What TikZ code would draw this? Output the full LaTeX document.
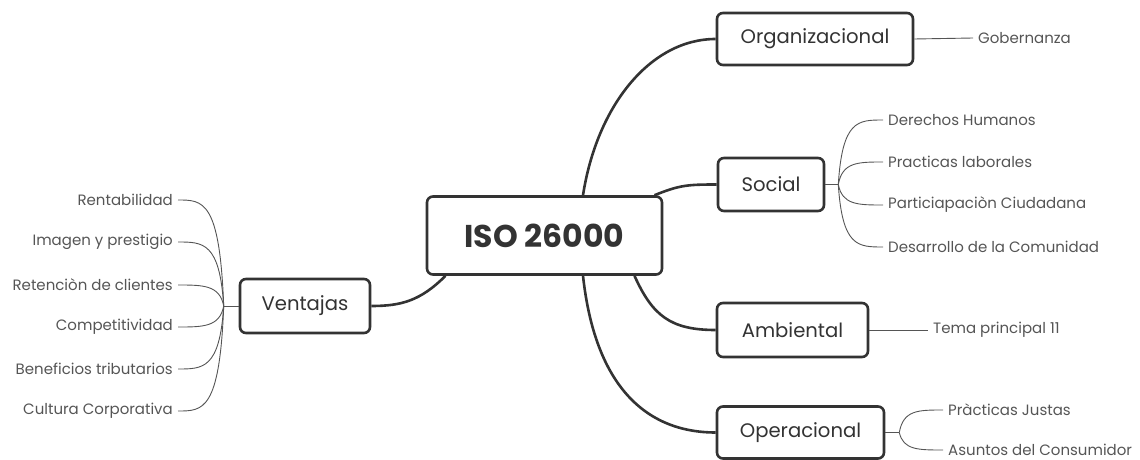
\documentclass[tikz,border=0pt]{standalone}
\usepackage{fontspec}
\setmainfont{Poppins}
\usetikzlibrary{calc}
\definecolor{ink}{HTML}{333333}
\definecolor{leafink}{HTML}{555555}
\begin{document}
\begin{tikzpicture}[x=1pt,y=1pt,
  topic/.style={draw=ink, line width=2.6pt, rounded corners=6pt, fill=white,
    text=ink, inner sep=0pt, font=\fontsize{19.6}{23}\selectfont},
  leafR/.style={anchor=west, text=leafink, inner xsep=5pt, inner ysep=0pt,
    font=\fontsize{15}{18}\selectfont},
  leafL/.style={leafR, anchor=east},
  main/.style={draw=ink, line width=2.6pt},
  twig/.style={draw=leafink, line width=0.9pt}]
\useasboundingbox (0,0) rectangle (1140,-460);

% central topic and main topics
\node[topic, minimum width=235, minimum height=78,
  font=\bfseries\fontsize{31.5}{36}\selectfont] (iso) at (544.5,-235.5) {ISO 26000};
\node[topic, minimum width=196, minimum height=52] (org) at (815,-39) {Organizacional};
\node[topic, minimum width=106, minimum height=53] (soc) at (771,-184.5) {Social};
\node[topic, minimum width=151, minimum height=54] (amb) at (792.5,-330) {Ambiental};
\node[topic, minimum width=167, minimum height=52] (ope) at (800.5,-432.5) {Operacional};
\node[topic, minimum width=130, minimum height=54] (ven) at (305,-306) {Ventajas};

% main connectors
\draw[main] ([xshift=38.5pt]iso.north) .. controls +(14,90) and +(-65,0) .. (org.west);
\draw[main] ([xshift=110pt]iso.north) .. controls +(25,10) and +(-30,0) .. (soc.west);
\draw[main] ([xshift=90pt]iso.south) .. controls +(18,-40) and +(-45,0) .. (amb.west);
\draw[main] ([xshift=38.5pt]iso.south) .. controls +(12,-110) and +(-70,0) .. (ope.west);
\draw[main] ([xshift=-99pt]iso.south) .. controls +(-25,-25) and +(30,0) .. (ven.east);

% leaves
\node[leafR] (gob) at (973,-38) {Gobernanza};
\node[leafR] (tema) at (928,-330) {Tema principal 11};

\node[leafR] (s1) at (883,-120) {Derechos Humanos};
\node[leafR] (s2) at (883,-162) {Practicas laborales};
\node[leafR] (s3) at (883,-205) {Particiapaciòn Ciudadana};
\node[leafR] (s4) at (883,-247) {Desarrollo de la Comunidad};

\node[leafR] (o1) at (943,-410) {Pràcticas Justas};
\node[leafR] (o2) at (943,-450) {Asuntos del Consumidor};

\node[leafL] (v1) at (178,-200) {Rentabilidad};
\node[leafL] (v2) at (178,-242) {Imagen y prestigio};
\node[leafL] (v3) at (178,-285) {Retenciòn de clientes};
\node[leafL] (v4) at (178,-327) {Competitividad};
\node[leafL] (v5) at (178,-369) {Beneficios tributarios};
\node[leafL] (v6) at (178,-411) {Cultura Corporativa};

% branch points
\coordinate (sb) at ($(soc.east)+(13,0)$);
\coordinate (ob) at ($(ope.east)+(14,0)$);
\coordinate (vb) at ($(ven.west)+(-15,0)$);

% leaf connectors
\draw[twig] (org.east) -- (gob.west);
\draw[twig] (amb.east) -- (tema.west);

\draw[twig] (soc.east) -- (sb);
\foreach \c in {s1,s2,s3,s4}
  \draw[twig] (sb) .. controls ([xshift=4pt]sb |- \c.west) and ($(\c.west)+(-25,0)$) .. (\c.west);

\draw[twig] (ope.east) -- (ob);
\foreach \c in {o1,o2}
  \draw[twig] (ob) .. controls ([xshift=4pt]ob |- \c.west) and ($(\c.west)+(-25,0)$) .. (\c.west);

\draw[twig] (ven.west) -- (vb);
\foreach \c in {v1,v2,v3,v4,v5,v6}
  \draw[twig] (vb) .. controls ([xshift=-4pt]vb |- \c.east) and ($(\c.east)+(25,0)$) .. (\c.east);
\end{tikzpicture}
\end{document}
